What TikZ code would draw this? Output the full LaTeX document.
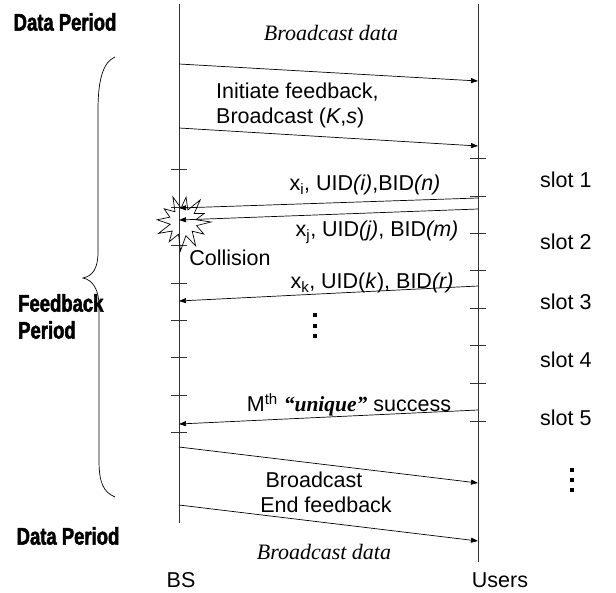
\documentclass[tikz,border=0pt]{standalone}
\usepackage{fontspec}
\setmainfont{Liberation Sans}
\newfontfamily\serifface{Liberation Serif}
\newfontfamily\heavyface[FakeBold=2,FakeStretch=0.77]{Liberation Sans Bold}
\usetikzlibrary{arrows.meta}

\begin{document}
\begin{tikzpicture}[x=1pt,y=-1pt,
  every node/.style={inner sep=0pt, font=\fontsize{21.5}{25}\selectfont},
  lifeline/.style={draw=black!80, line width=0.9pt},
  msg/.style={draw=black, line width=0.7pt, -{Triangle[length=7pt,width=5pt]}},
  tick/.style={draw=black!80, line width=0.8pt},
  period/.style={font=\fontsize{24}{27}\selectfont\heavyface, align=left},
  datatext/.style={font=\fontsize{22}{26}\selectfont\serifface\itshape},
  slotlabel/.style={anchor=west},
  dotmark/.style={fill=black, minimum size=4pt, inner sep=0pt}]
\useasboundingbox (0,0) rectangle (616,592);

% lifelines
\coordinate (bstop) at (179,4);
\coordinate (bsbot) at (179,523);
\coordinate (ustop) at (478,4);
\coordinate (usbot) at (478,562);
\draw[lifeline] (bstop) -- (bsbot);
\draw[lifeline] (ustop) -- (usbot);

% slot ticks on both lifelines
\foreach \y in {169,207,245,283,320,357,395,432}
  \draw[tick] (171,\y) -- (187,\y);
\foreach \y in {158,196,233,270,308,345,383,421}
  \draw[tick] (470,\y) -- (486,\y);

% message end points
\coordinate (b1) at (179,64);   \coordinate (u1) at (478,81);
\coordinate (b2) at (179,128);  \coordinate (u2) at (478,146);
\coordinate (ui) at (478,198);  \coordinate (bi) at (179,208);
\coordinate (uj) at (478,209);  \coordinate (bj) at (179,220);
\coordinate (uk) at (478,286);  \coordinate (bk) at (179,301);
\coordinate (um) at (478,410);  \coordinate (bm) at (179,424);
\coordinate (b3) at (179,447);  \coordinate (u3) at (478,483);
\coordinate (b4) at (179,505);  \coordinate (u4) at (478,541);

% collision burst
\begin{scope}[shift={(183,222)}]
\draw[line width=0.7pt] (0:28)
  -- (15:14) -- (30:24) -- (45:13) -- (62:27) -- (78:14) -- (95:29)
  -- (110:13) -- (125:24) -- (140:14) -- (155:27) -- (170:13) -- (185:26)
  -- (200:14) -- (215:23) -- (232:13) -- (248:27) -- (262:14) -- (277:25)
  -- (292:13) -- (308:28) -- (323:14) -- (338:23) -- (350:13) -- cycle;
\end{scope}

% messages
\draw[msg] (b1) -- (u1);
\draw[msg] (b2) -- (u2);
\draw[msg] (ui) -- (bi);
\draw[msg] (uj) -- (bj);
\draw[msg] (uk) -- (bk);
\draw[msg] (um) -- (bm);
\draw[msg] (b3) -- (u3);
\draw[msg] (b4) -- (u4);

% period captions
\node[period] (dp1) at (65,22) {Data Period};
\node[period, anchor=west] (fp1) at (18,303) {Feedback};
\node[period, anchor=west] (fp2) at (18,330) {Period};
\node[period] (dp2) at (68,536) {Data Period};

% feedback period brace
\draw[line width=0.7pt] (115,57) .. controls (103,62) and (98,80) .. (98,110)
  -- (98,252) .. controls (98,268) and (93,276) .. (83,278)
  .. controls (93,280) and (99,290) .. (99,306)
  -- (99,460) .. controls (99,482) and (103,492) .. (115,497);

% message labels
\node[datatext] (bd1) at (331,33) {Broadcast data};
\node[anchor=west] (init1) at (216,92) {Initiate feedback,};
\node[anchor=west] (init2) at (216,118) {Broadcast (\textit{K},\textit{s})};
\node (li) at (365,185) {x\textsubscript{i}, UID\textit{(i)},BID\textit{(n)}};
\node (lj) at (377,232) {x\textsubscript{j}, UID\textit{(j)}, BID\textit{(m)}};
\node (coll) at (230,258) {Collision};
\node (lk) at (372,283) {x\textsubscript{k}, UID(\textit{k}), BID\textit{(r)}};
\node (lm) at (349,405) {M\textsuperscript{th} {\serifface\bfseries\itshape “unique”} success};
\node (le1) at (314,480) {Broadcast};
\node (le2) at (326,505) {End feedback};
\node[datatext] (bd2) at (324,552) {Broadcast data};

% lifeline names
\node (bs) at (181,580) {BS};
\node (us) at (500,580) {Users};

% slot labels
\node[slotlabel] (s1) at (540,180) {slot 1};
\node[slotlabel] (s2) at (540,242) {slot 2};
\node[slotlabel] (s3) at (540,302) {slot 3};
\node[slotlabel] (s4) at (540,360) {slot 4};
\node[slotlabel] (s5) at (540,418) {slot 5};

% continuation dots
\node[dotmark] (m1) at (315,315) {};
\node[dotmark] (m2) at (315,326) {};
\node[dotmark] (m3) at (315,336) {};
\node[dotmark] (r1) at (572,470) {};
\node[dotmark] (r2) at (572,480) {};
\node[dotmark] (r3) at (572,490) {};
\end{tikzpicture}
\end{document}
